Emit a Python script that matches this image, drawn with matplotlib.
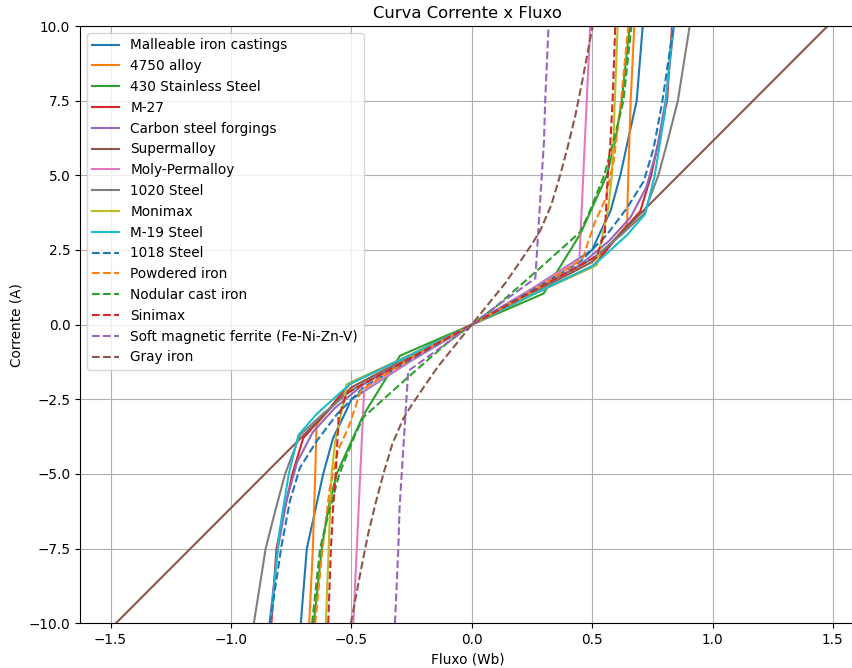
import matplotlib
matplotlib.use("Agg")
import matplotlib.pyplot as plt
import numpy as np

plt.rcParams["font.size"] = 9.8

# Curvas de magnetização (metade positiva); a parte negativa é simétrica.
# Cada material: fluxo (Wb) e corrente (A) correspondente.
materiais = [
    "Malleable iron castings", "4750 alloy", "430 Stainless Steel", "M-27",
    "Carbon steel forgings", "Supermalloy", "Moly-Permalloy", "1020 Steel",
    "Monimax", "M-19 Steel", "1018 Steel", "Powdered iron",
    "Nodular cast iron", "Sinimax", "Soft magnetic ferrite (Fe-Ni-Zn-V)",
    "Gray iron",
]

fluxo_malleable = [0, 0.25, 0.50, 0.534, 0.576, 0.617, 0.655, 0.685, 0.71]
corr_malleable  = [0, 1.2, 2.5, 3.1, 3.8, 5.0, 6.4, 7.5, 10.0]

fluxo_4750 = [0, 0.25, 0.505, 0.645, 0.65, 0.66, 0.675]
corr_4750  = [0, 1.0, 1.98, 3.35, 5.0, 7.5, 10.0]

fluxo_430 = [0, 0.298, 0.451, 0.561, 0.596, 0.623, 0.656]
corr_430  = [0, 1.04, 3.04, 5.0, 6.15, 7.5, 10.0]

fluxo_m27 = [0, 0.25, 0.505, 0.60, 0.70, 0.745, 0.776, 0.811, 0.832]
corr_m27  = [0, 1.0, 1.95, 2.9, 3.8, 5.0, 6.15, 7.5, 10.0]

fluxo_carbon = [0, 0.25, 0.45, 0.57, 0.66, 0.725, 0.77, 0.805, 0.84]
corr_carbon  = [0, 1.1, 2.0, 2.8, 3.6, 4.6, 5.9, 7.5, 10.0]

fluxo_supermalloy = [0, 0.25, 0.5, 1.478]
corr_supermalloy  = [0, 1.05, 2.1, 10.0]

fluxo_moly = [0, 0.25, 0.447, 0.492]
corr_moly  = [0, 1.2, 2.2, 10.0]

fluxo_1020 = [0, 0.25, 0.5, 0.62, 0.714, 0.775, 0.815, 0.856, 0.905]
corr_1020  = [0, 1.05, 2.2, 3.0, 3.7, 5.0, 6.2, 7.5, 10.0]

fluxo_monimax = [0, 0.25, 0.52, 0.53, 0.567, 0.582, 0.588, 0.606]
corr_monimax  = [0, 1.0, 2.0, 2.5, 3.9, 5.0, 6.15, 10.0]

fluxo_m19 = [0, 0.25, 0.505, 0.645, 0.72, 0.76, 0.80, 0.836]
corr_m19  = [0, 1.0, 1.98, 3.0, 3.7, 5.0, 7.0, 10.0]

fluxo_1018 = [0, 0.25, 0.45, 0.56, 0.644, 0.714, 0.755, 0.79, 0.838]
corr_1018  = [0, 1.15, 2.1, 3.0, 3.9, 4.8, 5.9, 7.4, 10.0]

fluxo_powdered = [0, 0.25, 0.46, 0.51, 0.555, 0.59, 0.62, 0.65]
corr_powdered  = [0, 1.1, 2.2, 3.4, 4.2, 5.5, 7.5, 10.0]

fluxo_nodular = [0, 0.1, 0.27, 0.45, 0.485, 0.55, 0.60, 0.63, 0.663]
corr_nodular  = [0, 0.6, 1.8, 3.1, 3.7, 5.0, 6.5, 7.5, 10.0]

fluxo_sinimax = [0, 0.25, 0.52, 0.553, 0.565, 0.576, 0.585, 0.596]
corr_sinimax  = [0, 1.1, 2.3, 3.1, 5.0, 6.15, 7.5, 10.0]

fluxo_ferrite = [0, 0.1, 0.264, 0.276, 0.30, 0.305, 0.319]
corr_ferrite  = [0, 0.6, 1.55, 3.1, 6.15, 7.5, 10.0]

fluxo_gray = [0, 0.05, 0.1, 0.14, 0.2, 0.25, 0.284, 0.33, 0.367, 0.40, 0.43,
              0.46, 0.502]
corr_gray  = [0, 0.5, 1.0, 1.4, 2.1, 2.7, 3.14, 4.0, 5.0, 6.0, 7.0, 8.2, 10.0]

curvas = [
    (fluxo_malleable, corr_malleable), (fluxo_4750, corr_4750),
    (fluxo_430, corr_430), (fluxo_m27, corr_m27),
    (fluxo_carbon, corr_carbon), (fluxo_supermalloy, corr_supermalloy),
    (fluxo_moly, corr_moly), (fluxo_1020, corr_1020),
    (fluxo_monimax, corr_monimax), (fluxo_m19, corr_m19),
    (fluxo_1018, corr_1018), (fluxo_powdered, corr_powdered),
    (fluxo_nodular, corr_nodular), (fluxo_sinimax, corr_sinimax),
    (fluxo_ferrite, corr_ferrite), (fluxo_gray, corr_gray),
]


def espelhar(x, y):
    """Completa a curva com a metade negativa (simetria ímpar)."""
    x = np.asarray(x, dtype=float)
    y = np.asarray(y, dtype=float)
    return (np.concatenate([-x[:0:-1], x]),
            np.concatenate([-y[:0:-1], y]))


fig, ax = plt.subplots(figsize=(8.53, 6.68), dpi=100)
fig.subplots_adjust(left=0.0938, right=1.003, top=0.961, bottom=0.067)

for i, (nome, (fx, cr)) in enumerate(zip(materiais, curvas)):
    estilo = "-" if i < 10 else "--"
    xs, ys = espelhar(fx, cr)
    ax.plot(xs, ys, estilo, color=f"C{i % 10}", label=nome)

ax.set_xlim(-1.627, 1.594)
ax.set_ylim(-10, 10)
ax.set_title("Curva Corrente x Fluxo")
ax.set_xlabel("Fluxo (Wb)")
ax.set_ylabel("Corrente (A)")
ax.grid(True)
ax.legend(loc="upper left")

fig.savefig("out.png", dpi=100)
